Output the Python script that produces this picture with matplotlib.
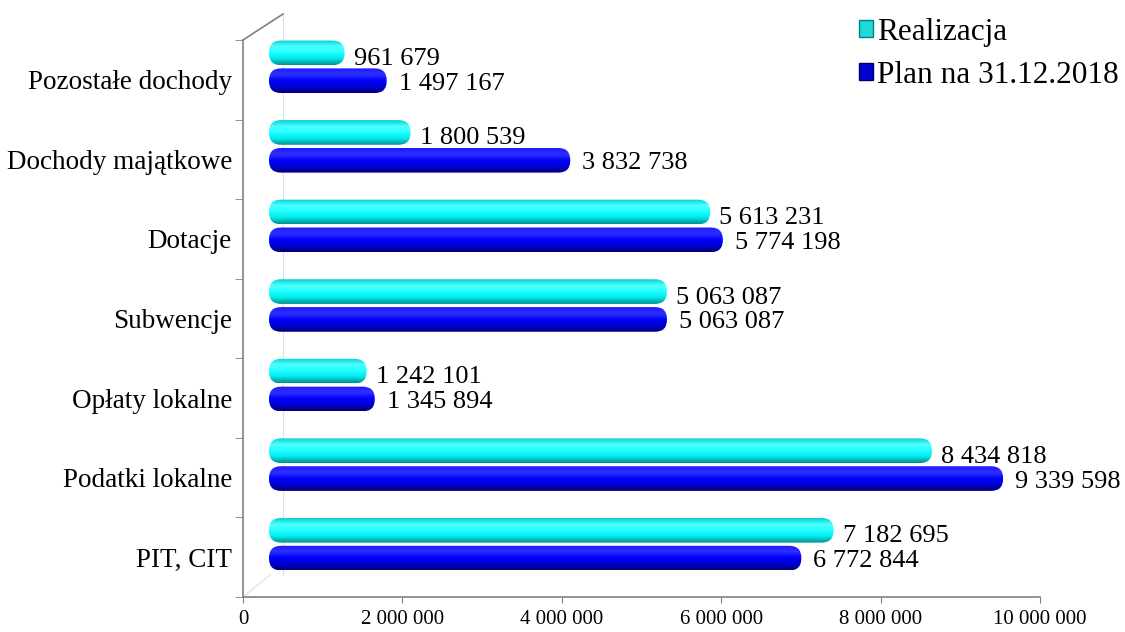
import numpy as np
import matplotlib.pyplot as plt
from matplotlib.patches import FancyBboxPatch, Patch
from matplotlib.lines import Line2D
from matplotlib.colors import LinearSegmentedColormap

categories = ["PIT, CIT", "Podatki lokalne", "Opłaty lokalne", "Subwencje",
              "Dotacje", "Dochody majątkowe", "Pozostałe dochody"]
realizacja = [7182695, 8434818, 1242101, 5063087, 5613231, 1800539, 961679]
plan = [6772844, 9339598, 1345894, 5063087, 5774198, 3832738, 1497167]
xticks = [0, 2000000, 4000000, 6000000, 8000000, 10000000]

plt.rcParams['font.family'] = ['Liberation Serif', 'DejaVu Serif']

W, H = 1125, 632
fig = plt.figure(figsize=(W / 100, H / 100), dpi=100)


def fr(x0, y0, x1, y1):
    # pixel box (top-left origin) -> figure fraction rect
    return [x0 / W, 1 - y1 / H, (x1 - x0) / W, (y1 - y0) / H]


def fmt(v):
    return f"{v:,}".replace(",", " ")


# pseudo 3D back wall lines (behind everything)
fig.add_artist(Line2D([283 / W, 283 / W], [1 - 14 / H, 1 - 575 / H], color='#e0e0e0', lw=0.8, zorder=-5))
fig.add_artist(Line2D([243 / W, 270 / W], [1 - 597 / H, 1 - 575 / H], color='#e0e0e0', lw=0.8, zorder=-5))

# axis with ticks and category labels
ax = fig.add_axes(fr(243, 40, 1040, 597))
ax.set_xlim(0, 10000000)
ax.set_ylim(-0.5, 6.5)
ax.set_xticks(xticks)
ax.set_xticklabels([fmt(t) for t in xticks], fontsize=15)
ax.set_yticks(range(len(categories)))
ax.set_yticklabels(categories, fontsize=19.5)
ax.set_yticks(np.arange(-0.5, 7, 1), minor=True)
ax.tick_params(axis='y', which='major', length=0, pad=8)
ax.tick_params(axis='y', which='minor', length=6, color='#808080')
ax.tick_params(axis='x', length=4, color='#808080', pad=5)
for s in ['top', 'right']:
    ax.spines[s].set_visible(False)
for s in ['left', 'bottom']:
    ax.spines[s].set_color('#808080')
    ax.spines[s].set_linewidth(1.2)
ax.patch.set_alpha(0)

fig.add_artist(Line2D([243 / W, 283 / W], [1 - 40 / H, 1 - 14 / H], color='#808080', lw=1.2))

# bars, shifted to mimic 3D depth
bx0, by0, bx1, by1 = 269, 27, 1055, 584
axb = fig.add_axes(fr(bx0, by0, bx1, by1))
axb.set_xlim(0, 10000000)
axb.set_ylim(-0.5, 6.5)
axb.axis('off')

y = np.arange(len(categories))
off, h = 0.175, 0.31
r1 = axb.barh(y + off, realizacja, height=h, alpha=0)
r2 = axb.barh(y - off, plan, height=h, alpha=0)

xpp = 10000000 / (bx1 - bx0)
ypp = 7 / (by1 - by0)
aspect = ypp / xpp
rad = 12 * xpp

cyan_grad = ['#00d4d4', '#50ffff', '#20ffff', '#00e8e8', '#009090']
blue_grad = ['#1a1aff', '#3030ff', '#0000ff', '#0000d0', '#000078']


def draw_bars(bars, grad):
    cmap = LinearSegmentedColormap.from_list('g', grad[::-1])
    grad_img = np.linspace(0, 1, 64).reshape(-1, 1)
    for b in bars:
        x0, yb = b.get_x(), b.get_y()
        w, hh = b.get_width(), b.get_height()
        p = FancyBboxPatch((x0, yb), w, hh,
                           boxstyle=f"round,pad=0,rounding_size={rad}",
                           mutation_aspect=aspect, fc='none', ec='none')
        axb.add_patch(p)
        im = axb.imshow(grad_img, cmap=cmap, aspect='auto', origin='lower',
                        extent=[x0, x0 + w, yb, yb + hh], interpolation='bilinear')
        im.set_clip_path(p)


draw_bars(r1, cyan_grad)
draw_bars(r2, blue_grad)
axb.set_xlim(0, 10000000)
axb.set_ylim(-0.5, 6.5)

for b, v in zip(r1, realizacja):
    axb.annotate(fmt(v), (b.get_width(), b.get_y() + b.get_height() / 2),
                 xytext=(9, -6), textcoords='offset pixels',
                 ha='left', va='center', fontsize=19)
for b, v in zip(r2, plan):
    axb.annotate(fmt(v), (b.get_width(), b.get_y() + b.get_height() / 2),
                 xytext=(12, -3), textcoords='offset pixels',
                 ha='left', va='center', fontsize=19)

handles = [Patch(fc='#20d8d8', ec='#008080'), Patch(fc='#0000d0', ec='#000060')]
fig.legend(handles, ['Realizacja', 'Plan na 31.12.2018'], loc='upper right',
           bbox_to_anchor=(1.012, 1.004), frameon=False, fontsize=22.5,
           handlelength=0.45, handleheight=0.45, handletextpad=0.12,
           labelspacing=0.45, borderaxespad=0.25)

fig.savefig('out.png', dpi=100)
